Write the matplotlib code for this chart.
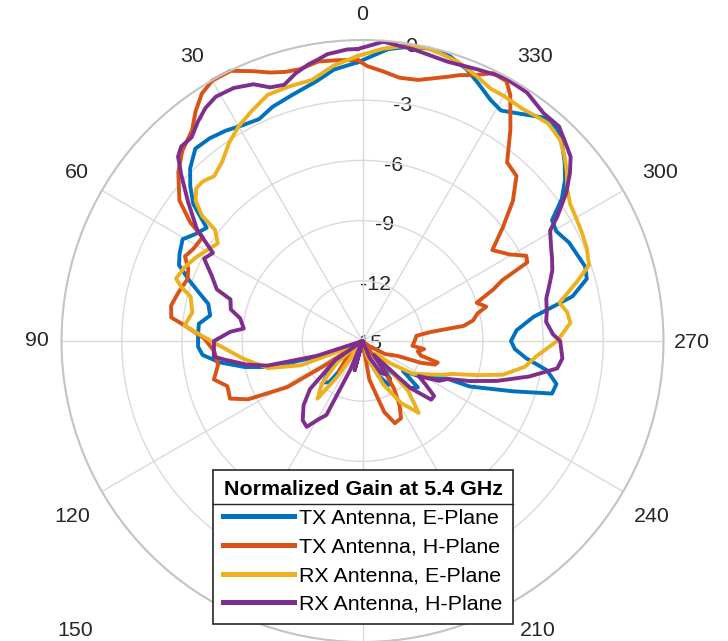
import numpy as np
import matplotlib
matplotlib.use("Agg")
import matplotlib.pyplot as plt
from matplotlib.lines import Line2D
from matplotlib.transforms import ScaledTranslation

plt.rcParams["font.family"] = ["Liberation Sans", "DejaVu Sans"]
plt.rcParams["axes.unicode_minus"] = False

# TX antenna, E-plane (angle in deg, normalized gain in dB)
tx_e_deg = [0.9, 6, 10, 16, 21, 25, 29, 33, 37, 41, 45, 48, 51, 54, 57.5, 60.5, 64.5, 67.5,
            70.5, 73.5, 76.5, 80.5, 84, 88, 92, 95, 98.5, 102.5, 106, 109, 113, 120, 126,
            130.5, 136.5, 141, 143, 150, 165, 172, 180, 192, 197, 204.5, 211, 216, 218, 225.5,
            230, 233.5, 238, 242.5, 246, 247, 251.5, 254.5, 257.5, 261, 264, 267, 270, 274,
            278, 282, 285.5, 288.5, 291.5, 295.5, 299.5, 302.5, 305.5, 308.5, 311.5, 314.5,
            317.5, 320.5, 326, 329, 332, 336, 339, 343, 347, 351, 355]
tx_e_db = [-1.1, -1.4, -1.85, -2.25, -2.5, -2.8, -2.7, -2.5, -2.35, -2.3, -2.85, -3.45, -4.15,
           -5.4, -5.1, -4.7, -4.9, -5.1, -5.8, -6.5, -7.1, -7.3, -6.8, -6.8, -6.8, -7.0, -7.8,
           -9.0, -10.3, -12.6, -14.4, -15, -13.9, -12.85, -12.15, -12.35, -13.4, -15, -15,
           -14.5, -15, -15, -14.1, -13.1, -12.45, -12.65, -13.65, -11.65, -11.4, -12.5, -11.7,
           -11.0, -10.4, -9.2, -7.1, -5.2, -5.1, -5.7, -6.8, -7.4, -7.6, -7.3, -6.4, -4.3, -3.4,
           -3.3, -3.45, -3.6, -3.9, -3.8, -2.8, -2.1, -1.55, -1.05, -0.65, -0.6, -1.3, -1.6,
           -1.4, -0.9, -0.5, -0.15, -0.05, -0.15, -0.4]

# TX antenna, H-plane
tx_h_deg = [1, 5, 9, 13, 16, 19, 22, 26, 30, 33, 36, 39, 43.5, 47.5, 52.5, 55.5, 57, 61.5,
            64.5, 67.5, 70.5, 75.5, 79.5, 83, 85, 89, 94, 99.5, 104.5, 108.5, 113.5, 117,
            121.5, 123, 128, 136, 142, 150, 165, 175, 185, 190, 197, 201.5, 206.5, 210, 213.5,
            217, 225, 232, 236, 240, 247, 249.5, 252, 254, 256, 259.5, 262.5, 264.5, 270,
            275.5, 277.5, 278.5, 280.5, 283.5, 285.5, 288.5, 291.5, 293.5, 295.5, 297.5, 300.5,
            305, 309, 313, 317, 321, 325, 329, 331, 334, 337, 340, 342, 345, 348, 352, 356, 359]
tx_h_db = [-1.0, -0.95, -0.9, -1.1, -1.05, -0.85, -0.5, -0.02, -0.02, -0.3, -0.85, -1.5, -1.95,
           -2.55, -3.5, -4.6, -5.5, -5.4, -5.2, -5.6, -5.75, -5.5, -5.3, -5.4, -6.1, -7.1, -7.6,
           -7.7, -7.35, -7.9, -7.8, -8.6, -10.6, -12.8, -15, -13.9, -13.1, -15, -15, -15, -15,
           -13.05, -11.3, -10.6, -10.7, -11.3, -12.15, -13.35, -15, -14.6, -14.4, -13.7, -13.1,
           -11.9, -11.2, -11.1, -12.0, -12.2, -11.9, -12.5, -12.4, -12.3, -11.6, -9.9, -9.4,
           -9.1, -8.6, -9.0, -8.0, -7.4, -5.9, -5.8, -6.5, -7.1, -6.0, -4.75, -3.75, -3.55,
           -2.15, -0.7, -0.2, -0.15, -0.6, -0.9, -1.15, -1.45, -1.7, -1.75, -1.5, -1.3]

# RX antenna, E-plane
rx_e_deg = [1, 6, 11, 16, 21, 26, 30, 34, 38, 42, 45, 47.5, 50, 52, 53, 56, 60, 63.5, 67.5,
            71.5, 73.5, 75.5, 80.5, 85, 88, 92, 98.5, 106, 111.5, 114, 120, 128, 130, 136.5,
            142, 145, 150, 165, 180, 198, 205.5, 212, 218, 222.5, 226, 231.5, 237, 242.5, 247,
            250, 253.5, 256.5, 261, 265, 270, 275, 278, 281, 285.5, 288.5, 292.5, 296.5, 300.5,
            303.5, 306.5, 309.5, 312.5, 315.5, 319.5, 322.5, 325.5, 330, 333, 337, 341, 345,
            348, 352, 356]
rx_e_db = [-0.8, -1.2, -1.75, -1.8, -1.85, -2.3, -2.65, -3.1, -3.65, -3.95, -3.75, -3.75,
           -4.15, -4.85, -5.8, -6.3, -6.0, -5.7, -5.4, -5.2, -5.6, -6.15, -6.4, -6.1, -6.95,
           -7.9, -9.0, -10.1, -11.7, -13.9, -15, -15, -13.35, -12.05, -11.35, -12.9, -15, -15,
           -15, -14.1, -12.6, -11.35, -10.45, -11.65, -14.1, -13.2, -12.0, -11.4, -10.7, -10.2,
           -9.0, -7.8, -6.8, -6.3, -5.3, -4.6, -4.7, -5.0, -3.9, -3.1, -2.9, -2.8, -2.7, -2.6,
           -2.3, -1.8, -1.35, -0.95, -0.75, -0.85, -0.95, -0.9, -0.9, -0.6, -0.3, -0.15, -0.05,
           -0.15, -0.4]

# RX antenna, H-plane
rx_h_deg = [1, 3, 7, 9, 11, 14, 17, 20, 23, 27, 31, 34, 37, 40, 43, 45, 47.5, 51.5, 56,
            59.5, 62.5, 66.5, 70.5, 72.5, 76.5, 79.5, 84, 86, 90, 96, 97.5, 101.5, 104.5, 108,
            112, 122, 125, 132.5, 137.5, 143, 147, 150.5, 154, 157, 160, 165, 170, 190, 200,
            203, 210, 215.5, 219, 225.5, 229.5, 232.5, 235.5, 238, 242.5, 246, 249.5, 253.5,
            258, 262, 265, 270, 272, 276, 279, 283, 287.5, 290.5, 293.5, 296.5, 300.5, 302.5,
            306, 309, 311.5, 313.5, 317.5, 321.5, 326.5, 331, 333, 337, 343, 350, 356]
rx_h_db = [-0.45, -0.45, -0.6, -0.8, -0.95, -1.25, -1.65, -1.55, -1.1, -0.85, -0.8, -1.0,
           -1.35, -1.75, -1.75, -2.0, -2.75, -3.9, -5.05, -6.35, -6.1, -6.8, -7.3, -8.1, -8.25,
           -8.8, -9.05, -8.4, -7.6, -7.55, -8.0, -9.1, -10.1, -12.6, -15, -15, -13.35, -11.45,
           -10.65, -10.05, -9.9, -10.5, -10.9, -13.45, -15, -13.5, -15, -15, -15, -14.1, -13.15,
           -12.95, -14.1, -11.65, -10.5, -10.5, -11.2, -11.7, -10.7, -10.35, -9.3, -8.0, -6.5,
           -5.2, -5.0, -5.15, -5.5, -5.8, -5.7, -5.6, -5.2, -4.9, -4.7, -4.5, -4.15, -3.5,
           -2.45, -1.7, -1.15, -0.95, -0.5, -0.5, -0.15, -0.1, -0.15, -0.3, -0.45, -0.25,
           -0.05]

series = [
    (tx_e_deg, tx_e_db, "#0072BD", "TX Antenna, E-Plane"),
    (tx_h_deg, tx_h_db, "#D95319", "TX Antenna, H-Plane"),
    (rx_e_deg, rx_e_db, "#EDB120", "RX Antenna, E-Plane"),
    (rx_h_deg, rx_h_db, "#7E2F8E", "RX Antenna, H-Plane"),
]

r_ticks = [-15, -12, -9, -6, -3, 0]
theta_ticks = np.arange(0, 360, 30)
# angle labels that are written (180 falls below the figure), with their
# centres in figure pixels measured from the top-left corner
angle_labels = ["0", "30", "60", "90", "120", "150", "210", "240", "270", "300", "330"]
angle_label_px = [(362, 15), (192, 57), (77, 172), (37, 341), (72, 516), (75, 630),
                  (538, 630), (652, 516), (692, 342), (660, 172), (535, 57)]

fs = 15.4
txt = "#262626"
W, H = 728, 641

fig = plt.figure(figsize=(W / 100, H / 100), dpi=100)
ax = fig.add_axes([0.08448, -0.00156, 0.82692, 0.93916], projection="polar")
ax.set_theta_zero_location("N")
ax.set_theta_direction(1)

for deg, db, col, lab in series:
    th = np.deg2rad(np.append(deg, deg[0] + 360))
    r = np.clip(np.append(db, db[0]), -15, 0)
    ax.plot(th, r, color=col, lw=2.8, label=lab, clip_on=False, solid_joinstyle="round")

ax.set_rlim(-15, 0)
ax.set_rticks(r_ticks)
ax.set_yticklabels([])
ax.set_thetagrids(theta_ticks, [""] * len(theta_ticks))
ax.grid(True, color="#dadada", lw=1.0)
ax.spines["polar"].set_color("#c4c4c4")
ax.spines["polar"].set_linewidth(1.5)

for s, (px, py) in zip(angle_labels, angle_label_px):
    fig.text(px / W, 1 - py / H, s, ha="center", va="center", fontsize=fs, color=txt)

# radial tick labels along the 351.5 deg spoke, nudged right
shift = ax.transData + ScaledTranslation(0.04, -0.03, fig.dpi_scale_trans)
for rv in r_ticks:
    ax.text(np.deg2rad(351.5), rv, str(rv), transform=shift, ha="center", va="center",
            fontsize=fs, color=txt, clip_on=False, zorder=1)

leg = ax.legend(loc="center", bbox_to_anchor=(0.4986, 0.1466), bbox_transform=fig.transFigure,
                title="Normalized Gain at 5.4 GHz", fontsize=fs, fancybox=False,
                framealpha=1, edgecolor="#262626", handlelength=3.3, handletextpad=0.25,
                labelspacing=0.45, borderpad=0.5, borderaxespad=0)
leg.get_title().set_fontweight("bold")
leg.get_title().set_fontsize(fs)
leg.get_frame().set_linewidth(1.2)
leg.set_zorder(20)
for h in leg.legend_handles:
    h.set_linewidth(3.6)

# separator line under the legend title
fig.canvas.draw()
fb = leg.get_frame().get_window_extent()
tb = leg.get_title().get_window_extent()
ysep = tb.y0 - 0.5 * 0.45 * fs * fig.dpi / 72
inv = fig.transFigure.inverted()
(x0, y0), (x1, _) = inv.transform([(fb.x0, ysep), (fb.x1, ysep)])
fig.add_artist(Line2D([x0, x1], [y0, y0], transform=fig.transFigure, color="#262626",
                      lw=1.0, zorder=30))

fig.savefig("out.png", dpi=100)
